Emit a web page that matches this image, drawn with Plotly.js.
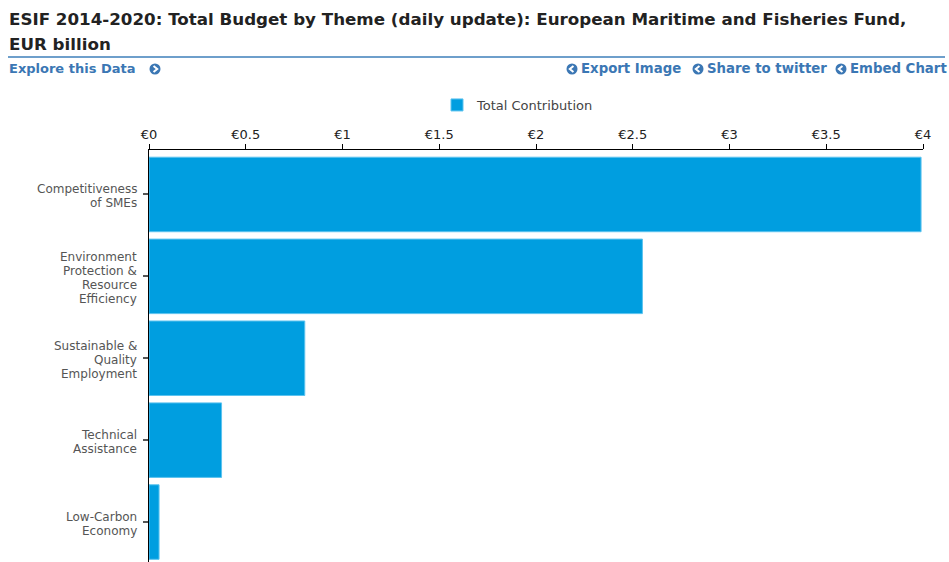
<!DOCTYPE html>
<html>
<head>
<meta charset="utf-8">
<script src="https://cdn.plot.ly/plotly-3.0.1.min.js"></script>
<style>html,body{margin:0;padding:0;background:#fff;}#chart{width:949px;height:562px;}</style>
</head>
<body>
<div id="chart"></div>
<script>
const categories = [
  "Competitiveness<br>of SMEs",
  "Environment<br>Protection &<br>Resource<br>Efficiency",
  "Sustainable &<br>Quality<br>Employment",
  "Technical<br>Assistance",
  "Low-Carbon<br>Economy"
];
const totalContribution = [3.99, 2.55, 0.805, 0.375, 0.052];
const xTickVals = [0, 0.5, 1, 1.5, 2, 2.5, 3, 3.5, 4];
const xTickText = ["€0", "€0.5", "€1", "€1.5", "€2", "€2.5", "€3", "€3.5", "€4"];

const W = 949, H = 562;
const M = {l: 149, r: 26, t: 150, b: 0};
const PW = W - M.l - M.r, PH = H - M.t - M.b;
const px = x => (x - M.l) / PW;
const py = y => (H - M.b - y) / PH;

const FONT = "DejaVu Sans, Verdana, sans-serif";
const linkColor = "#3b77b4";

const annotations = [
  {text: "<b>ESIF 2014-2020: Total Budget by Theme (daily update): European Maritime and Fisheries Fund,</b>",
   xref: "paper", yref: "paper", x: px(7), y: py(19), xanchor: "left", yanchor: "middle",
   showarrow: false, font: {family: FONT, size: 16.7, color: "#222"}},
  {text: "<b>EUR billion</b>",
   xref: "paper", yref: "paper", x: px(7), y: py(44), xanchor: "left", yanchor: "middle",
   showarrow: false, font: {family: FONT, size: 16.7, color: "#222"}},
  {text: "<b>Explore this Data</b>",
   xref: "paper", yref: "paper", x: px(7), y: py(69), xanchor: "left", yanchor: "middle",
   showarrow: false, font: {family: FONT, size: 13, color: linkColor}},
  {text: "<b>Export Image</b>",
   xref: "paper", yref: "paper", x: px(579), y: py(69), xanchor: "left", yanchor: "middle",
   showarrow: false, font: {family: FONT, size: 13.3, color: linkColor}},
  {text: "<b>Share to twitter</b>",
   xref: "paper", yref: "paper", x: px(705), y: py(69), xanchor: "left", yanchor: "middle",
   showarrow: false, font: {family: FONT, size: 13.3, color: linkColor}},
  {text: "<b>Embed Chart</b>",
   xref: "paper", yref: "paper", x: px(848), y: py(69), xanchor: "left", yanchor: "middle",
   showarrow: false, font: {family: FONT, size: 13.3, color: linkColor}}
];

// y category labels, one annotation per line for tight line spacing
const LINE = 14;
categories.forEach((cat, i) => {
  const lines = cat.split("<br>");
  lines.forEach((ln, j) => {
    const off = (j - (lines.length - 1) / 2) * LINE + 1.5;
    annotations.push({
      text: ln, xref: "paper", yref: "y", x: px(139), y: i,
      xanchor: "right", yanchor: "middle", yshift: -off, showarrow: false,
      font: {family: FONT, size: 12, color: "#555"}
    });
  });
});

function icon(cx, cy, dir) {
  const r = 5.5;
  const shapes = [{
    type: "circle", xref: "paper", yref: "paper",
    x0: px(cx - r), x1: px(cx + r), y0: py(cy + r), y1: py(cy - r),
    fillcolor: linkColor, line: {width: 0}
  }];
  const d = 2.2 * dir;
  const path = `M ${px(cx - d/1.5)} ${py(cy - 3)} L ${px(cx + d)} ${py(cy)} L ${px(cx - d/1.5)} ${py(cy + 3)}`;
  shapes.push({type: "path", xref: "paper", yref: "paper", path: path,
    line: {color: "#fff", width: 2}});
  return shapes;
}

const shapes = [
  {type: "line", xref: "paper", yref: "paper", x0: px(8), x1: px(945), y0: py(57), y1: py(57),
   line: {color: "#6e9fcb", width: 2}},
  ...icon(155, 69, 1),
  ...icon(572, 69, -1),
  ...icon(698, 69, -1),
  ...icon(841, 69, -1)
];

const trace = {
  type: "bar",
  orientation: "h",
  name: "Total Contribution",
  y: categories,
  x: totalContribution,
  marker: {color: "#009ee0", line: {color: "#5cc3ef", width: 1}},
  hoverinfo: "x+y"
};

const layout = {
  width: W, height: H,
  margin: M,
  paper_bgcolor: "#fff", plot_bgcolor: "#fff",
  font: {family: FONT, size: 12, color: "#333"},
  bargap: 0.09,
  showlegend: true,
  legend: {orientation: "h", x: px(437), y: py(105), xanchor: "left", yanchor: "middle",
           font: {family: FONT, size: 13, color: "#444"}, bgcolor: "rgba(0,0,0,0)",
           itemwidth: 30},
  xaxis: {
    side: "top", range: [0, 4], tickvals: xTickVals, ticktext: xTickText,
    showgrid: false, zeroline: false, showline: true, linecolor: "#000", linewidth: 1,
    ticks: "outside", ticklen: 5, tickcolor: "#000", tickwidth: 1,
    tickfont: {family: FONT, size: 13, color: "#222"}, fixedrange: true
  },
  yaxis: {
    type: "category", range: [4.488, -0.543], showgrid: false, zeroline: false,
    showline: true, linecolor: "#000", linewidth: 1, showticklabels: false,
    ticks: "outside", ticklen: 5, tickcolor: "#555", tickwidth: 2, fixedrange: true
  },
  annotations: annotations,
  shapes: shapes
};

Plotly.newPlot("chart", [trace], layout, {displayModeBar: false, staticPlot: true});
</script>
</body>
</html>
